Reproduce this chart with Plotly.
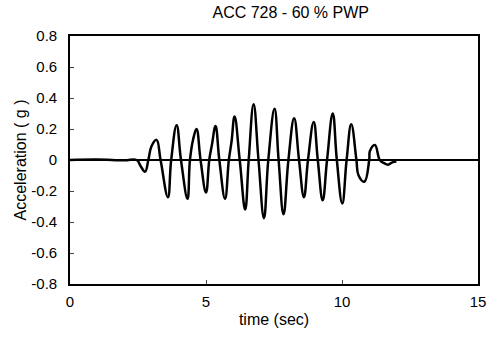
import plotly.graph_objects as go

# time (s) and acceleration (g)
time_s = [0.0, 1.0, 2.0, 2.45, 2.6, 2.76, 2.88, 3.0, 3.18, 3.33, 3.60, 3.72, 3.92, 4.08, 4.32, 4.41, 4.53, 4.65,
          4.80, 5.00, 5.12, 5.22, 5.35, 5.49, 5.70, 5.84, 5.94, 6.05, 6.24, 6.44, 6.57, 6.75, 6.93, 7.13,
          7.29, 7.52, 7.67, 7.85, 8.03, 8.24, 8.42, 8.60, 8.75, 8.96, 9.11, 9.29, 9.45, 9.66, 9.81, 10.01,
          10.17, 10.34, 10.53, 10.61, 10.82, 11.0, 11.03, 11.21, 11.39, 11.55, 11.69, 11.85, 12.0]
accel_g = [0.0, 0.003, -0.002, 0.0, -0.04, -0.075, 0.0, 0.09, 0.13, 0.0, -0.24, 0.0, 0.225, 0.0, -0.25, 0.0, 0.135, 0.20,
           0.0, -0.21, 0.0, 0.10, 0.22, 0.0, -0.25, 0.0, 0.12, 0.28, 0.0, -0.32, 0.0, 0.36, 0.0, -0.375,
           0.0, 0.33, 0.0, -0.35, 0.0, 0.27, 0.0, -0.24, 0.0, 0.245, 0.0, -0.26, 0.0, 0.30, 0.0, -0.28,
           0.0, 0.23, 0.0, -0.10, -0.14, 0.0, 0.06, 0.097, 0.0, -0.02, -0.03, -0.015, -0.01]

title = "ACC 728 - 60 % PWP"
x_ticks = [0, 5, 10, 15]
y_ticks = [-0.8, -0.6, -0.4, -0.2, 0, 0.2, 0.4, 0.6, 0.8]
y_labels = ["-0.8", "-0.6", "-0.4", "-0.2", "0", "0.2", "0.4", "0.6", "0.8"]

FAM = "Liberation Sans, Arial, sans-serif"

fig = go.Figure()
fig.add_hline(y=0, line=dict(color="black", width=1.8))
fig.add_trace(go.Scatter(x=time_s, y=accel_g, mode="lines",
                         line=dict(color="black", width=2.5, shape="spline", smoothing=1.2),
                         showlegend=False))

fig.update_layout(
    width=497, height=337,
    margin=dict(l=70, r=11, t=36, b=53),
    paper_bgcolor="white", plot_bgcolor="white",
    font=dict(family=FAM, color="black", size=14),
    title=dict(text=title, x=0.585, xanchor="center", y=0.962, yanchor="middle",
               font=dict(size=16, family=FAM, color="black")),
)
fig.update_xaxes(range=[0, 15], tickvals=x_ticks, ticks="inside", ticklen=4,
                 showline=True, linecolor="black", linewidth=1.6, mirror=True,
                 showgrid=False, zeroline=False, ticklabelstandoff=3,
                 title=dict(text="time (sec)", standoff=5, font=dict(size=16)),
                 tickfont=dict(size=15))
fig.update_yaxes(range=[-0.8, 0.8], tickvals=y_ticks, ticktext=y_labels, ticks="inside", ticklen=4,
                 showline=True, linecolor="black", linewidth=1.6, mirror=True,
                 showgrid=False, zeroline=False, ticklabelstandoff=8,
                 title=dict(text="Acceleration ( g )", standoff=1, font=dict(size=16)),
                 tickfont=dict(size=15))

fig.write_html("out.html")
